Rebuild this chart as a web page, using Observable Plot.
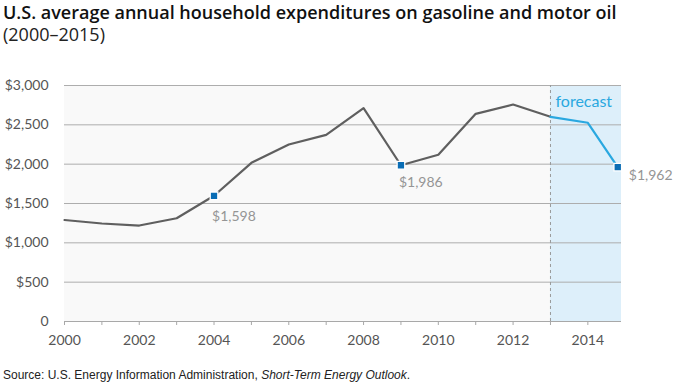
<!DOCTYPE html>
<html>
<head>
<meta charset="utf-8">
<script src="https://cdn.jsdelivr.net/npm/d3@7"></script>
<script src="https://cdn.jsdelivr.net/npm/@observablehq/plot@0.6"></script>
<style>
  html, body { margin: 0; padding: 0; background: #fff; width: 680px; height: 385px; overflow: hidden; }
  #title { position: absolute; left: 3px; top: 1px; font-family: "Open Sans", sans-serif; font-size: 18px; color: #111; line-height: 22px; }
  #title .t1 { font-weight: 600; }
  #title .t2 { font-weight: 400; color: #222; }
  #chart { position: absolute; left: 0; top: 48px; }
  #source { position: absolute; left: 3px; top: 368px; font-family: "Liberation Sans", Arial, sans-serif; font-size: 12px; color: #222; }
</style>
</head>
<body>
<div id="title"><div class="t1">U.S. average annual household expenditures on gasoline and motor oil</div><div class="t2">(2000–2015)</div></div>
<div id="chart"></div>
<div id="source">Source: U.S. Energy Information Administration, <i>Short-Term Energy Outlook</i>.</div>
<script>
// Years as plotted (the final 2015 point sits just short of the 2015 position in the reference)
const years = [2000, 2001, 2002, 2003, 2004, 2005, 2006, 2007, 2008, 2009, 2010, 2011, 2012, 2013, 2014, 2014.8];
const spending = [1290, 1246, 1220, 1313, 1598, 2017, 2250, 2373, 2712, 1986, 2119, 2640, 2758, 2602, 2526, 1962];
const forecastStart = 2013;
const xEnd = 2014.9;
const yTicks = [0, 500, 1000, 1500, 2000, 2500, 3000];
const xTicks = [2000, 2001, 2002, 2003, 2004, 2005, 2006, 2007, 2008, 2009, 2010, 2011, 2012, 2013, 2014];
const labeledYears = [2004, 2009, 2014.8];
const labelText = ["$1,598", "$1,986", "$1,962"];

const rows = years.map((y, i) => ({year: y, value: spending[i]}));
const actual = rows.filter(d => d.year <= forecastStart);
const forecast = rows.filter(d => d.year >= forecastStart);
const marked = rows.filter(d => labeledYears.includes(d.year)).map((d, i) => ({...d, label: labelText[i]}));

const fmtY = d => d === 0 ? "0" : "$" + d3.format(",")(d);

const chart = Plot.plot({
  width: 680,
  height: 300,
  marginLeft: 64,
  marginRight: 59,
  marginTop: 37,
  marginBottom: 27,
  style: { fontFamily: "Lato, sans-serif", background: "transparent", overflow: "visible" },
  x: { domain: [2000, xEnd], type: "linear" },
  y: { domain: [0, 3000] },
  marks: [
    Plot.rect([{a: 2000, b: forecastStart}], {x1: "a", x2: "b", y1: () => 0, y2: () => 3000, fill: "#f9f9f9"}),
    Plot.rect([{a: forecastStart, b: xEnd}], {x1: "a", x2: "b", y1: () => 0, y2: () => 3000, fill: "#ddeffa"}),
    Plot.ruleY(yTicks.filter(d => d > 0), {stroke: "#adadad", strokeWidth: 1}),
    Plot.ruleX([forecastStart], {y1: () => 0, y2: () => 3000, stroke: "#9a9a9a", strokeDasharray: "3,3", strokeWidth: 1}),
    Plot.ruleY([0], {stroke: "#a8a8a8", strokeWidth: 1}),
    Plot.axisY({ticks: yTicks, tickSize: 0, tickPadding: 16, tickFormat: fmtY, fontSize: 14, color: "#555", label: null}),
    Plot.axisX({ticks: xTicks, tickSize: 4, tickPadding: 10, tickFormat: d => d % 2 === 0 ? String(d) : "", fontSize: 14, color: "#555", stroke: "#a8a8a8", label: null}),
    Plot.line(actual, {x: "year", y: "value", stroke: "#5f5f5f", strokeWidth: 2.2}),
    Plot.line(forecast, {x: "year", y: "value", stroke: "#2aa8e0", strokeWidth: 2.2}),
    Plot.dot(marked, {x: "year", y: "value", symbol: "square", r: 4.3, fill: "#0a6db5", stroke: "#fff", strokeWidth: 1.3}),
    Plot.text(marked.slice(0, 1), {x: "year", y: "value", text: "label", textAnchor: "start", dx: -2, dy: 21, fontSize: 14, fill: "#959595"}),
    Plot.text(marked.slice(1, 2), {x: "year", y: "value", text: "label", textAnchor: "start", dx: -2, dy: 17, fontSize: 14, fill: "#959595"}),
    Plot.text(marked.slice(2), {x: "year", y: "value", text: "label", textAnchor: "start", dx: 11, dy: 8, fontSize: 14, fill: "#959595"}),
    Plot.text(["forecast"], {x: () => forecastStart, y: () => 3000, text: d => d, textAnchor: "start", dx: 5, dy: 16, fontSize: 16, fill: "#2aa8e0"})
  ]
});
document.getElementById("chart").appendChild(chart);
</script>
</body>
</html>
